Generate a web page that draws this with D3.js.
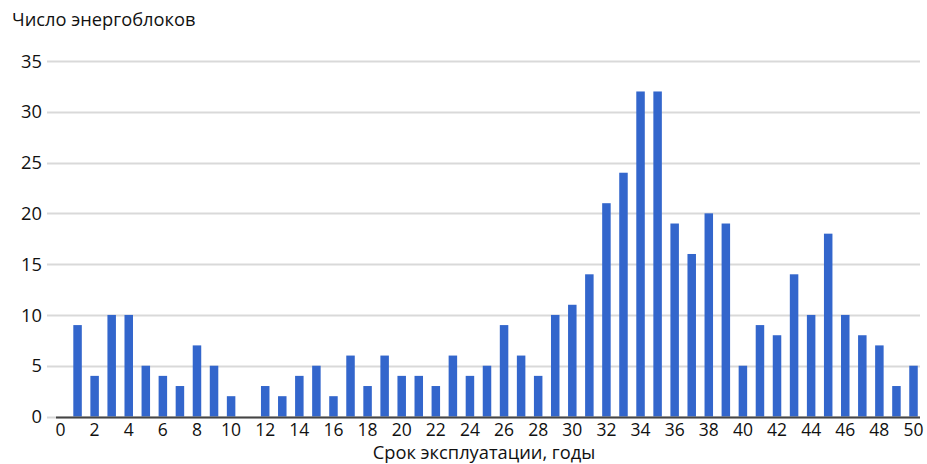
<!DOCTYPE html>
<html>
<head>
<meta charset="utf-8">
<script src="https://cdn.jsdelivr.net/npm/d3@7"></script>
<style>
  html, body { margin: 0; padding: 0; background: #fff; }
  svg { display: block; }
  text { font-family: "Open Sans", "Noto Sans", sans-serif; fill: #111; }
</style>
</head>
<body>
<svg id="chart" width="927" height="464"></svg>
<script>
const years = d3.range(1, 51);
const units = [9,4,10,10,5,4,3,7,5,2,
               0,3,2,4,5,2,6,3,6,4,
               4,3,6,4,5,9,6,4,10,11,
               14,21,24,32,32,19,16,20,19,5,
               9,8,14,10,18,10,8,7,3,5];
const yTicks = [0,5,10,15,20,25,30,35];
const xTicks = d3.range(0, 51, 2);
const yTitle = "Число энергоблоков";
const xTitle = "Срок эксплуатации, годы";

const svg = d3.select("#chart");
const x = d3.scaleLinear().domain([0, 50]).range([60.5, 913.5]);
const y = d3.scaleLinear().domain([0, 35]).range([416.5, 61]);
const barW = 8.5;
const fs = 18.3;
const tfs = 17.5;

svg.append("g").selectAll("line").data(yTicks).join("line")
  .attr("x1", 47).attr("x2", 920)
  .attr("y1", d => Math.round(y(d)) + 0.5).attr("y2", d => Math.round(y(d)) + 0.5)
  .attr("stroke", "#d9d9d9").attr("stroke-width", 2);

svg.append("g").selectAll("text").data(yTicks).join("text")
  .attr("x", 42).attr("y", d => y(d)).attr("dy", "0.36em")
  .attr("text-anchor", "end").attr("font-size", fs).text(d => d);

svg.append("g").selectAll("rect").data(years).join("rect")
  .attr("x", (d) => x(d) - barW / 2)
  .attr("width", barW)
  .attr("y", (d, i) => y(units[i]))
  .attr("height", (d, i) => y(0) - y(units[i]))
  .attr("fill", "#3366cc");

svg.append("line").attr("x1", 56).attr("x2", 920)
  .attr("y1", Math.round(y(0)) + 0.5).attr("y2", Math.round(y(0)) + 0.5)
  .attr("stroke", "#444").attr("stroke-width", 2);

svg.append("g").selectAll("text").data(xTicks).join("text")
  .attr("x", d => x(d)).attr("y", 436)
  .attr("text-anchor", "middle").attr("font-size", tfs).text(d => d);

svg.append("text").attr("x", 12).attr("y", 26).attr("font-size", fs).text(yTitle);
svg.append("text").attr("x", 484).attr("y", 459).attr("text-anchor", "middle")
  .attr("font-size", fs).text(xTitle);
</script>
</body>
</html>
